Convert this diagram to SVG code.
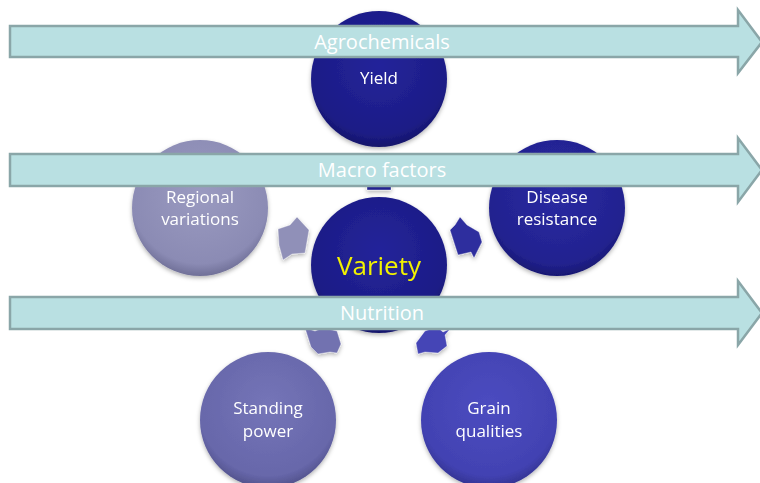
<svg xmlns="http://www.w3.org/2000/svg" width="760" height="483" viewBox="0 0 760 483">
<style>
.lbl{font-family:"Open Sans","Liberation Sans",sans-serif;font-size:17px;fill:#ffffff;text-anchor:middle}
.band{font-family:"Open Sans","Liberation Sans",sans-serif;font-size:20px;fill:#ffffff;text-anchor:middle}
.barrow{fill:#b9e0e2;stroke:#8aa6a8;stroke-width:2.5}
.sarrow{stroke:#ffffff;stroke-opacity:0.35;stroke-width:1;stroke-linejoin:round}
</style>
<defs>
<radialGradient id="gDark" cx="0.5" cy="0.4" r="0.6"><stop offset="0" stop-color="#24249a"/><stop offset="0.85" stop-color="#1c1c86"/><stop offset="1" stop-color="#15156a"/></radialGradient>
<radialGradient id="gDis" cx="0.5" cy="0.4" r="0.6"><stop offset="0" stop-color="#2a2aa2"/><stop offset="0.85" stop-color="#22228f"/><stop offset="1" stop-color="#181872"/></radialGradient>
<radialGradient id="gReg" cx="0.5" cy="0.4" r="0.6"><stop offset="0" stop-color="#9a9ac0"/><stop offset="0.85" stop-color="#8b8bb4"/><stop offset="1" stop-color="#707098"/></radialGradient>
<radialGradient id="gStd" cx="0.5" cy="0.4" r="0.6"><stop offset="0" stop-color="#7575b8"/><stop offset="0.85" stop-color="#6767aa"/><stop offset="1" stop-color="#52528c"/></radialGradient>
<radialGradient id="gGrn" cx="0.5" cy="0.4" r="0.6"><stop offset="0" stop-color="#4c4cc0"/><stop offset="0.85" stop-color="#4242b2"/><stop offset="1" stop-color="#333392"/></radialGradient>
<filter id="sh" x="-20%" y="-20%" width="140%" height="140%"><feDropShadow dx="0" dy="2" stdDeviation="2" flood-color="#000" flood-opacity="0.3"/></filter>
</defs>

<g id="node-yield" filter="url(#sh)">
<circle cx="379" cy="79" r="68" fill="url(#gDark)"/>
<text class="lbl" x="379" y="84">Yield</text>
</g>
<g id="node-regional" filter="url(#sh)">
<circle cx="200" cy="208" r="68" fill="url(#gReg)"/>
<text class="lbl" x="200" y="203">Regional</text>
<text class="lbl" x="200" y="225">variations</text>
</g>
<g id="node-disease" filter="url(#sh)">
<circle cx="557" cy="208" r="68" fill="url(#gDis)"/>
<text class="lbl" x="557" y="203">Disease</text>
<text class="lbl" x="557" y="225">resistance</text>
</g>
<g id="node-variety" filter="url(#sh)">
<circle cx="379" cy="265" r="68" fill="url(#gDark)"/>
<text x="379" y="275" text-anchor="middle" font-family="'Open Sans','Liberation Sans',sans-serif" font-size="26" fill="#f2f200">Variety</text>
</g>
<g id="node-standing" filter="url(#sh)">
<circle cx="268" cy="420" r="68" fill="url(#gStd)"/>
<text class="lbl" x="268" y="414">Standing</text>
<text class="lbl" x="268" y="437">power</text>
</g>
<g id="node-grain" filter="url(#sh)">
<circle cx="489" cy="420" r="68" fill="url(#gGrn)"/>
<text class="lbl" x="489" y="414">Grain</text>
<text class="lbl" x="489" y="437">qualities</text>
</g>

<g id="connectors" filter="url(#sh)">
<polygon class="sarrow" fill="#22228f" points="367,190 367,180 373,180 379,172 385,180 391,180 391,190"/>
<polygon class="sarrow" fill="#9090b8" points="278,229 290,225 297,217 309,230 305,253 292,254 283,260 279,245"/>
<polygon class="sarrow" fill="#2f2f9e" points="460,217 467,225 479,232 482,242 474,258 471,252 458,255 450,230 455,225"/>
<polygon class="sarrow" fill="#7272b0" points="305,328 315,331 323,328 337,331 341,344 337,353 330,352 318,354 311,347"/>
<polygon class="sarrow" fill="#4444b6" points="450,329 445,335 447,346 438,353 425,352 418,354 416,343 425,331 437,327 443,332"/>
</g>

<g id="band-agrochemicals">
<polygon class="barrow" points="10,26 738,26 738,10 762,42 738,73 738,57 10,57"/>
<text class="band" x="382" y="49">Agrochemicals</text>
</g>
<g id="band-macro">
<polygon class="barrow" points="10,154 738,154 738,138 762,170 738,202 738,186 10,186"/>
<text class="band" x="382" y="177">Macro factors</text>
</g>
<g id="band-nutrition">
<polygon class="barrow" points="10,297 738,297 738,281 762,313 738,345 738,329 10,329"/>
<text class="band" x="382" y="320">Nutrition</text>
</g>
</svg>
